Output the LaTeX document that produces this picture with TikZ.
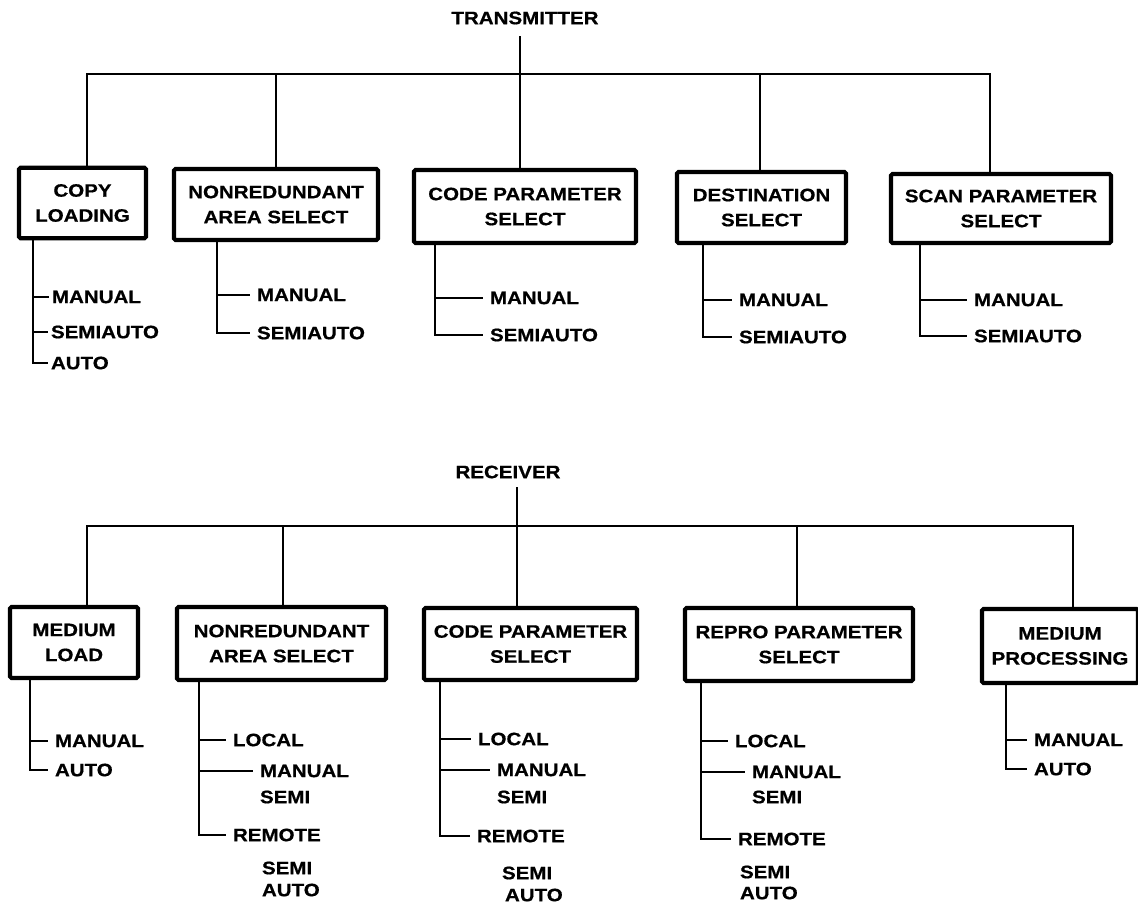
\documentclass[tikz,border=0pt]{standalone}
\usepackage{fontspec}
\newfontfamily\diagfont{Liberation Sans}[FakeStretch=1.14, BoldFeatures={FakeBold=0.6}]
\begin{document}
\begin{tikzpicture}[x=1pt,y=-1pt,
  txt/.style={font=\diagfont\bfseries\fontsize{18}{25}\selectfont},
  box/.style={txt, draw, line width=4.2pt, rounded corners=1.5pt, inner sep=0pt, align=center},
  wire/.style={line width=2.8pt, line join=miter},
  opt/.style={txt, anchor=west, inner sep=0pt, outer xsep=7pt},
  head/.style={txt, inner sep=0pt}]
\useasboundingbox[fill=white] (0,0) rectangle (1138,903);

% ---------------- transmitter ----------------
\node[head] (tx) at (525,18) {TRANSMITTER};
\coordinate (txtail) at (520,36);
\coordinate (tj1) at (87,74);
\coordinate (tj2) at (276,74);
\coordinate (tj3) at (520,74);
\coordinate (tj4) at (760,74);
\coordinate (tj5) at (990,74);

\node[box, minimum width=127pt, minimum height=70.5pt] (t1) at (82.5,203)  {COPY\\LOADING};
\node[box, minimum width=204pt, minimum height=71pt]   (t2) at (276,204.5) {NONREDUNDANT\\AREA SELECT};
\node[box, minimum width=222pt, minimum height=73pt]   (t3) at (525,206.5) {CODE PARAMETER\\SELECT};
\node[box, minimum width=169pt, minimum height=71pt]   (t4) at (761.5,207.5) {DESTINATION\\SELECT};
\node[box, minimum width=220pt, minimum height=69pt]   (t5) at (1001,208.5) {SCAN PARAMETER\\SELECT};

\draw[wire] (txtail) -- (tj3 |- t3.north);
\draw[wire] (tj1 |- t1.north) -- (tj1) -- (tj5) -- (tj5 |- t5.north);
\draw[wire] (tj2) -- (tj2 |- t2.north);
\draw[wire] (tj4) -- (tj4 |- t4.north);

% options under each transmitter block
\node[opt, outer xsep=3pt] (t1a) at (49,297) {MANUAL};
\node[opt, outer xsep=3pt] (t1b) at (48,332) {SEMIAUTO};
\node[opt, outer xsep=3pt] (t1c) at (48,363) {AUTO};
\coordinate (ts1) at (33,0);
\draw[wire] (ts1 |- t1.south) |- (t1c.west);
\draw[wire] (ts1 |- t1a.west) -- (t1a.west);
\draw[wire] (ts1 |- t1b.west) -- (t1b.west);

\node[opt] (t2a) at (250,295) {MANUAL};
\node[opt] (t2b) at (250,333) {SEMIAUTO};
\coordinate (ts2) at (217,0);
\draw[wire] (ts2 |- t2.south) |- (t2b.west);
\draw[wire] (ts2 |- t2a.west) -- (t2a.west);

\node[opt] (t3a) at (483,298) {MANUAL};
\node[opt] (t3b) at (483,335) {SEMIAUTO};
\coordinate (ts3) at (435,0);
\draw[wire] (ts3 |- t3.south) |- (t3b.west);
\draw[wire] (ts3 |- t3a.west) -- (t3a.west);

\node[opt] (t4a) at (732,300) {MANUAL};
\node[opt] (t4b) at (732,337) {SEMIAUTO};
\coordinate (ts4) at (703,0);
\draw[wire] (ts4 |- t4.south) |- (t4b.west);
\draw[wire] (ts4 |- t4a.west) -- (t4a.west);

\node[opt] (t5a) at (967,300) {MANUAL};
\node[opt] (t5b) at (967,336) {SEMIAUTO};
\coordinate (ts5) at (920,0);
\draw[wire] (ts5 |- t5.south) |- (t5b.west);
\draw[wire] (ts5 |- t5a.west) -- (t5a.west);

% ---------------- receiver ----------------
\node[head] (rx) at (508,472) {RECEIVER};
\coordinate (rxtail) at (517,487);
\coordinate (rj1) at (87,526);
\coordinate (rj2) at (283,526);
\coordinate (rj3) at (517,526);
\coordinate (rj4) at (797,526);
\coordinate (rj5) at (1073,526);

\node[box, minimum width=128pt, minimum height=71pt] (r1) at (74,642.5)  {MEDIUM\\LOAD};
\node[box, minimum width=209pt, minimum height=73pt] (r2) at (281.5,643.5) {NONREDUNDANT\\AREA SELECT};
\node[box, minimum width=213pt, minimum height=72pt] (r3) at (530.5,644) {CODE PARAMETER\\SELECT};
\node[box, minimum width=228pt, minimum height=73pt] (r4) at (799,644.5) {REPRO PARAMETER\\SELECT};
\node[box, minimum width=156pt, minimum height=74pt] (r5) at (1060,646) {MEDIUM\\PROCESSING};

\draw[wire] (rxtail) -- (rj3 |- r3.north);
\draw[wire] (rj1 |- r1.north) -- (rj1) -- (rj5) -- (rj5 |- r5.north);
\draw[wire] (rj2) -- (rj2 |- r2.north);
\draw[wire] (rj4) -- (rj4 |- r4.north);

% options under each receiver block
\node[opt] (r1a) at (48,741) {MANUAL};
\node[opt] (r1b) at (48,770) {AUTO};
\coordinate (rs1) at (30,0);
\draw[wire] (rs1 |- r1.south) |- (r1b.west);
\draw[wire] (rs1 |- r1a.west) -- (r1a.west);

\node[opt] (r2a) at (226,740) {LOCAL};
\node[opt] (r2b) at (253,771) {MANUAL};
\node[opt] (r2c) at (253,797) {SEMI};
\node[opt] (r2d) at (226,835) {REMOTE};
\node[opt] (r2e) at (255,868) {SEMI};
\node[opt] (r2f) at (255,890) {AUTO};
\coordinate (rs2) at (199,0);
\draw[wire] (rs2 |- r2.south) |- (r2d.west);
\draw[wire] (rs2 |- r2a.west) -- (r2a.west);
\draw[wire] (rs2 |- r2b.west) -- (r2b.west);

\node[opt] (r3a) at (471,739) {LOCAL};
\node[opt] (r3b) at (490,770) {MANUAL};
\node[opt] (r3c) at (490,797) {SEMI};
\node[opt] (r3d) at (470,836) {REMOTE};
\node[opt] (r3e) at (495,873) {SEMI};
\node[opt] (r3f) at (498,895) {AUTO};
\coordinate (rs3) at (440,0);
\draw[wire] (rs3 |- r3.south) |- (r3d.west);
\draw[wire] (rs3 |- r3a.west) -- (r3a.west);
\draw[wire] (rs3 |- r3b.west) -- (r3b.west);

\node[opt] (r4a) at (728,741) {LOCAL};
\node[opt] (r4b) at (745,772) {MANUAL};
\node[opt] (r4c) at (745,797) {SEMI};
\node[opt] (r4d) at (731,839) {REMOTE};
\node[opt] (r4e) at (733,872) {SEMI};
\node[opt] (r4f) at (733,893) {AUTO};
\coordinate (rs4) at (701,0);
\draw[wire] (rs4 |- r4.south) |- (r4d.west);
\draw[wire] (rs4 |- r4a.west) -- (r4a.west);
\draw[wire] (rs4 |- r4b.west) -- (r4b.west);

\node[opt] (r5a) at (1027,740) {MANUAL};
\node[opt] (r5b) at (1027,769) {AUTO};
\coordinate (rs5) at (1006,0);
\draw[wire] (rs5 |- r5.south) |- (r5b.west);
\draw[wire] (rs5 |- r5a.west) -- (r5a.west);
\end{tikzpicture}
\end{document}
